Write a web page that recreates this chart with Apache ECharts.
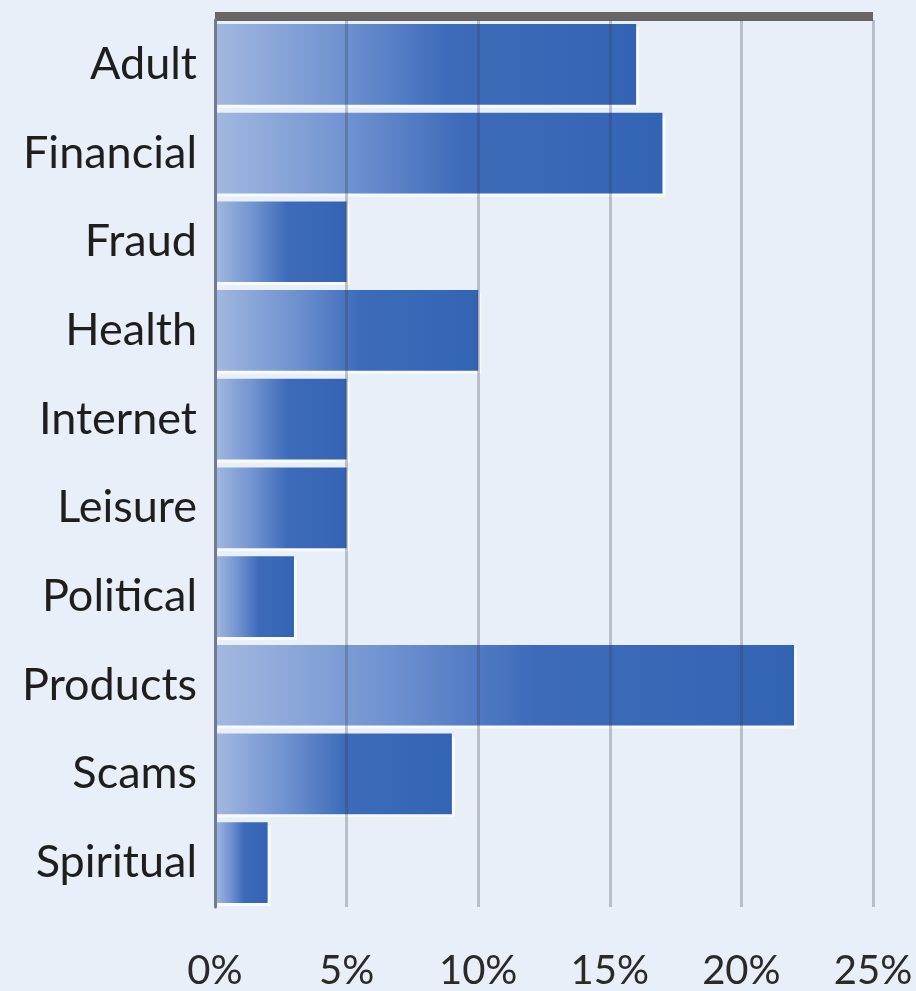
<!DOCTYPE html>
<html>
<head>
<meta charset="utf-8">
<script src="https://cdn.jsdelivr.net/npm/echarts@6/dist/echarts.min.js"></script>
<style>
html,body{margin:0;padding:0;background:#e9eff8;}
#chart{width:916px;height:991px;}
</style>
</head>
<body>
<div id="chart"></div>
<script>
const categories = ['Adult','Financial','Fraud','Health','Internet','Leisure','Political','Products','Scams','Spiritual'];
const values = [16, 17, 5, 10, 5, 5, 3, 22, 9, 2];
const tickLabels = ['0%','5%','10%','15%','20%','25%'];

const chart = echarts.init(document.getElementById('chart'));
chart.setOption({
  backgroundColor: '#e9eff8',
  animation: false,
  grid: { left: 215, right: 43, top: 20, bottom: 82, containLabel: false },
  xAxis: [{
    type: 'value', min: 0, max: 25, interval: 5, position: 'bottom', z: 5,
    axisLine: { show: false }, axisTick: { show: false },
    axisLabel: {
      margin: 44, fontSize: 40, fontFamily: 'Lato', color: '#2a2a2a',
      formatter: function (v) { return tickLabels[Math.round(v / 5)]; }
    },
    splitLine: { show: true, lineStyle: { color: 'rgba(55,60,75,0.27)', width: 3 } }
  }, {
    type: 'value', min: 0, max: 25, position: 'top', offset: 4,
    axisLine: { show: true, lineStyle: { color: '#676565', width: 9, cap: 'butt' } },
    axisTick: { show: false }, axisLabel: { show: false }, splitLine: { show: false }
  }],
  yAxis: {
    type: 'category', data: categories, inverse: true, z: 6,
    axisLine: { show: true, lineStyle: { color: '#6f7b8e', width: 3 } },
    axisTick: { show: false },
    axisLabel: { margin: 18, fontSize: 45, fontFamily: 'Lato', color: '#1e1e1e', padding: [0, 0, 10, 0] }
  },
  series: [{
    type: 'bar', data: values, xAxisIndex: 0, barCategoryGap: '9%',
    itemStyle: {
      color: new echarts.graphic.LinearGradient(0, 0, 1, 0, [
        { offset: 0, color: '#a2b8e0' },
        { offset: 0.3, color: '#6f92d0' },
        { offset: 0.55, color: '#3d6bba' },
        { offset: 1, color: '#3364b3' }
      ]),
      shadowColor: 'rgba(250,252,255,0.85)', shadowBlur: 0, shadowOffsetX: 3, shadowOffsetY: 3
    }
  }]
});
</script>
</body>
</html>
